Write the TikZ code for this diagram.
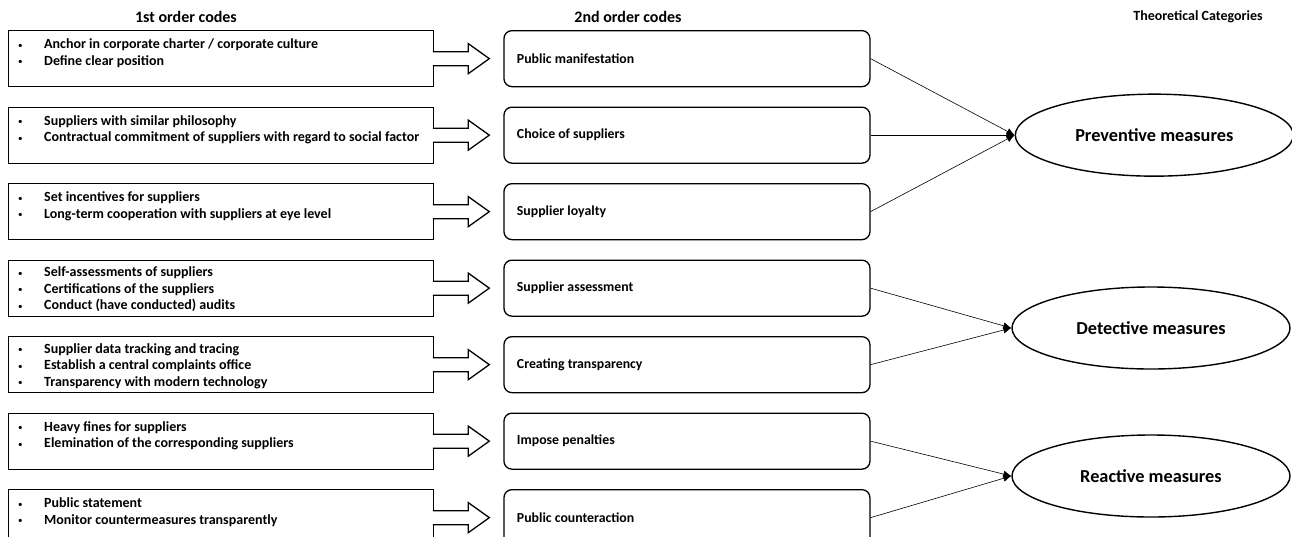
\documentclass[tikz,border=0pt]{standalone}
\usepackage{fontspec}
\setmainfont{Carlito}
\usetikzlibrary{positioning, calc, shapes.geometric, arrows.meta}

\newcommand{\bul}{\makebox[26pt][l]{\raisebox{0.5pt}{\fontsize{9}{9}\selectfont\mdseries\textbullet}}}

\begin{document}
\begin{tikzpicture}[x=1pt, y=1pt,
    codebox/.style={draw, line width=1.3pt, minimum width=425pt, minimum height=56pt, inner sep=0pt},
    codetext/.style={inner sep=0pt, align=left, font=\fontsize{14}{16.6}\selectfont\bfseries},
    subbox/.style={draw, line width=1.3pt, rounded corners=8pt, minimum width=366pt, minimum height=56pt,
        text width=340pt, inner xsep=13pt, align=flush left, font=\fontsize{13.8}{16.5}\selectfont\bfseries},
    catnode/.style={ellipse, draw, line width=1.4pt, minimum width=278pt, minimum height=82pt,
        font=\fontsize{18.3}{21}\selectfont\bfseries},
    head/.style={font=\fontsize{16}{19}\selectfont\bfseries},
    blockarrow/.style={draw, line width=1.3pt, fill=white},
    link/.style={line width=0.6pt, -{Latex[length=8pt, width=7pt]}}
]
    \clip (0,0) rectangle (1292,-536);

    % Column headings
    \node[head] (h1) at (186,-17) {1st order codes};
    \node[head] (h2) at (628,-17) {2nd order codes};
    \node[head, font=\fontsize{14}{17}\selectfont\bfseries] (h3) at (1198,-17) {Theoretical Categories};

    % 1st order code boxes
    \node[codebox, anchor=north west] (c1) at (8,-30) {};
    \node[codebox, below=19.2pt of c1] (c2) {};
    \node[codebox, below=19.2pt of c2] (c3) {};
    \node[codebox, below=19.2pt of c3] (c4) {};
    \node[codebox, below=19.2pt of c4] (c5) {};
    \node[codebox, below=19.2pt of c5] (c6) {};
    \node[codebox, below=19.2pt of c6] (c7) {};

    % Bullet lists
    \node[codetext, below right=8.5pt and 10pt of c1.north west] (t1)
        {\bul Anchor in corporate charter / corporate culture\\ \bul Define clear position};
    \node[codetext, below right=8.5pt and 10pt of c2.north west] (t2)
        {\bul Suppliers with similar philosophy\\ \bul Contractual commitment of suppliers with regard to social factor};
    \node[codetext, below right=8.5pt and 10pt of c3.north west] (t3)
        {\bul Set incentives for suppliers\\ \bul Long-term cooperation with suppliers at eye level};
    \node[codetext, below right=7pt and 10pt of c4.north west] (t4)
        {\bul Self-assessments of suppliers\\ \bul Certifications of the suppliers\\ \bul Conduct (have conducted) audits};
    \node[codetext, below right=7pt and 10pt of c5.north west] (t5)
        {\bul Supplier data tracking and tracing\\ \bul Establish a central complaints office\\ \bul Transparency with modern technology};
    \node[codetext, below right=8.5pt and 10pt of c6.north west] (t6)
        {\bul Heavy fines for suppliers\\ \bul Elemination of the corresponding suppliers};
    \node[codetext, below right=8.5pt and 10pt of c7.north west] (t7)
        {\bul Public statement\\ \bul Monitor countermeasures transparently};

    % 2nd order code boxes
    \node[subbox, right=69pt of c1] (s1) {Public manifestation};
    \node[subbox, right=69pt of c2] (s2) {Choice of suppliers};
    \node[subbox, right=69pt of c3] (s3) {Supplier loyalty};
    \node[subbox, right=69pt of c4] (s4) {Supplier assessment};
    \node[subbox, right=69pt of c5] (s5) {Creating transparency};
    \node[subbox, right=69pt of c6] (s6) {Impose penalties};
    \node[subbox, right=69pt of c7] (s7) {Public counteraction};

    % Block arrows from 1st to 2nd order codes
    \foreach \i in {1,...,7}
        \draw[blockarrow] ($(c\i.east)+(-1.5,7)$) -- ++(35.5,0) -- ++(0,8) -- ($(c\i.east)+(55,0)$)
            -- ($(c\i.east)+(34,-15)$) -- ++(0,8) -- ($(c\i.east)+(-1.5,-7)$);

    % Theoretical categories
    \node[catnode, right=144pt of s2] (cat1) {Preventive measures};
    \node[catnode] (cat2) at (1151,-328) {Detective measures};
    \node[catnode] (cat3) at (1151,-476) {Reactive measures};

    % Links
    \draw[link] (s1.east) -- (cat1.west);
    \draw[link] (s2.east) -- (cat1.west);
    \draw[link] (s3.east) -- (cat1.west);
    \draw[link] (s4.east) -- (cat2.west);
    \draw[link] (s5.east) -- (cat2.west);
    \draw[link] (s6.east) -- (cat3.west);
    \draw[link] (s7.east) -- (cat3.west);
\end{tikzpicture}
\end{document}
